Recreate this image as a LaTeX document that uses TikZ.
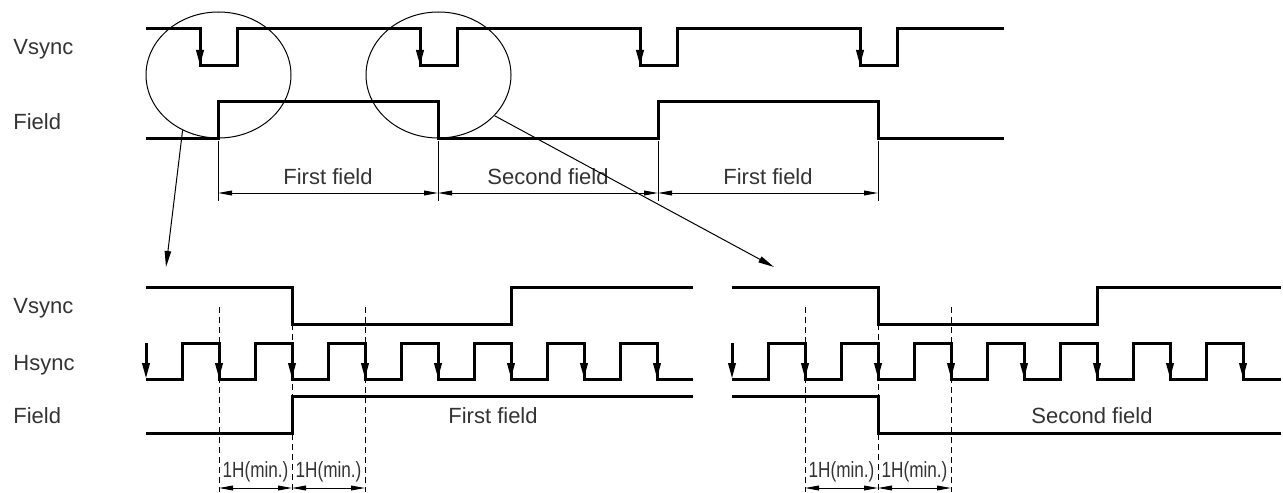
\documentclass[tikz,border=0pt]{standalone}
\usepackage{fontspec}
\setmainfont{Liberation Sans}
\usetikzlibrary{arrows.meta,shapes.geometric}
\begin{document}
\begin{tikzpicture}[x=0.5pt,y=-0.5pt,
  sig/.style={line width=1.5pt, line join=miter},
  edgearr/.style={line width=1.5pt, -{Triangle[length=8pt,width=3.6pt]}},
  dimarr/.style={line width=0.5pt, {Triangle[length=7pt,width=2.4pt]}-{Triangle[length=7pt,width=2.4pt]}},
  extline/.style={line width=0.5pt},
  dsh/.style={line width=0.5pt, dash pattern=on 3pt off 2pt},
  lbl/.style={font=\fontsize{11}{13}\selectfont, text=black!80, inner sep=0pt},
  ellnode/.style={draw, line width=0.5pt, ellipse, inner sep=0pt, minimum width=72.5pt, minimum height=63pt},
  callarr/.style={line width=0.5pt, -{Triangle[length=8pt,width=3.2pt]}}]
\useasboundingbox (0,0) rectangle (1283,492);

% ---------- labels ----------
\node[lbl, anchor=base west] (lv1) at (13,55) {Vsync};
\node[lbl, anchor=base west] (lf1) at (13,129) {Field};
\node[lbl, anchor=base west] (lv2) at (13,313) {Vsync};
\node[lbl, anchor=base west] (lh2) at (13,370) {Hsync};
\node[lbl, anchor=base west] (lf2) at (13,423) {Field};

% ---------- top Vsync ----------
\draw[sig] (146,29) -- (200,29) -- (200,66) -- (237,66) -- (237,29)
  -- (420,29) -- (420,66) -- (457,66) -- (457,29)
  -- (640,29) -- (640,66) -- (677,66) -- (677,29)
  -- (860,29) -- (860,66) -- (897,66) -- (897,29) -- (1004,29);
\foreach \x in {200,420,640,860} \draw[edgearr] (\x,29) -- (\x,66);

% ---------- top Field ----------
\draw[sig] (146,138) -- (218,138) -- (218,102) -- (438,102) -- (438,138)
  -- (658,138) -- (658,102) -- (878,102) -- (878,138) -- (1004,138);

% ---------- top dimensions ----------
\foreach \x in {218,438,658,878} \draw[extline] (\x,141) -- (\x,201);
\coordinate (d1) at (218,193);
\coordinate (d2) at (438,193);
\coordinate (d3) at (658,193);
\coordinate (d4) at (878,193);
\draw[dimarr] (d1) -- (d2);
\draw[dimarr] (d2) -- (d3);
\draw[dimarr] (d3) -- (d4);
\node[lbl, anchor=base] (tf1) at (328,184) {First field};
\node[lbl, anchor=base] (tf2) at (548,184) {Second field};
\node[lbl, anchor=base] (tf3) at (768,184) {First field};

% ---------- ellipses and callouts ----------
\node[ellnode] (e1) at (218.5,75) {};
\node[ellnode] (e2) at (438.5,75) {};
\coordinate (t1) at (166,267);
\coordinate (t2) at (774,267);
\draw[callarr] (e1.237) -- (t1);
\draw[callarr] (e2.324) -- (t2);

% ---------- bottom left ----------
\draw[dsh] (219,307) -- (219,492);
\draw[dsh] (365,307) -- (365,492);
\draw[dsh] (292,324) -- (292,492);
\draw[sig] (146,287) -- (292,287) -- (292,324) -- (511,324) -- (511,287) -- (693,287);
\draw[sig] (146,379)
  \foreach \k in {0,...,6} { -- ({146+73*\k+36.5},379) -- ({146+73*\k+36.5},343) -- ({146+73*(\k+1)},343) -- ({146+73*(\k+1)},379) }
  -- (693,379);
\foreach \k in {0,...,7} \draw[edgearr] ({146+73*\k},343) -- ({146+73*\k},379);
\draw[sig] (146,433) -- (292,433) -- (292,396) -- (693,396);
\node[lbl, anchor=base] (ff) at (493,423) {First field};
\coordinate (h1) at (219,488);
\coordinate (h2) at (292,488);
\coordinate (h3) at (365,488);
\draw[dimarr] (h1) -- (h2);
\draw[dimarr] (h2) -- (h3);
\node[lbl, anchor=base] (m1) at (255.5,477) {\scalebox{0.78}[1]{1H(min.)}};
\node[lbl, anchor=base] (m2) at (328.5,477) {\scalebox{0.78}[1]{1H(min.)}};

% ---------- bottom right ----------
\draw[dsh] (805,307) -- (805,492);
\draw[dsh] (951,307) -- (951,492);
\draw[dsh] (878,324) -- (878,492);
\draw[sig] (732,287) -- (878,287) -- (878,324) -- (1097,324) -- (1097,287) -- (1281,287);
\draw[sig] (732,379)
  \foreach \k in {0,...,6} { -- ({732+73*\k+36.5},379) -- ({732+73*\k+36.5},343) -- ({732+73*(\k+1)},343) -- ({732+73*(\k+1)},379) }
  -- (1281,379);
\foreach \k in {0,...,7} \draw[edgearr] ({732+73*\k},343) -- ({732+73*\k},379);
\draw[sig] (732,396) -- (878,396) -- (878,433) -- (1281,433);
\node[lbl, anchor=base] (sf) at (1092,423) {Second field};
\coordinate (g1) at (805,488);
\coordinate (g2) at (878,488);
\coordinate (g3) at (951,488);
\draw[dimarr] (g1) -- (g2);
\draw[dimarr] (g2) -- (g3);
\node[lbl, anchor=base] (m3) at (841.5,477) {\scalebox{0.78}[1]{1H(min.)}};
\node[lbl, anchor=base] (m4) at (914.5,477) {\scalebox{0.78}[1]{1H(min.)}};
\end{tikzpicture}
\end{document}
